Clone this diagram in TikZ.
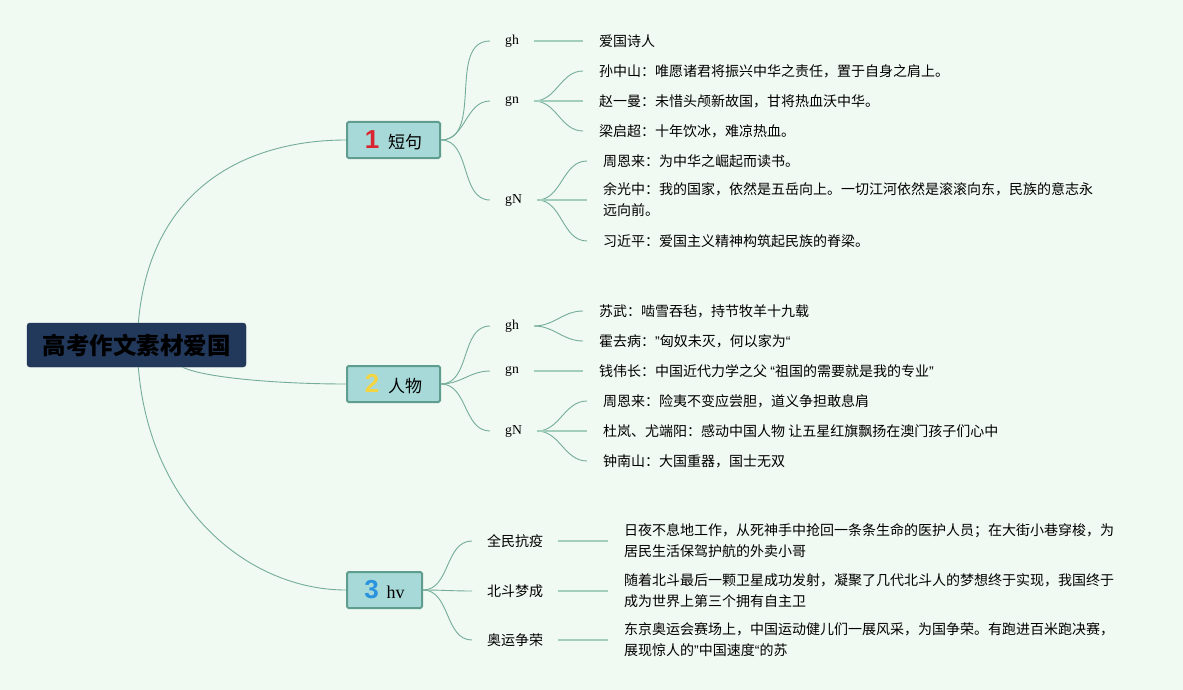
\documentclass[tikz,border=0pt]{standalone}
\usepackage{fontspec}
\setmainfont{Liberation Serif}
\newfontfamily\cjk{Noto Sans CJK SC}
\newfontfamily\numfont{Liberation Sans}
\newcommand\latq[1]{{\numfont #1}}
\definecolor{bgmint}{HTML}{F1F9F3}
\definecolor{rootfill}{HTML}{22395C}
\definecolor{topicfill}{HTML}{A7D9D8}
\definecolor{topicline}{HTML}{5F9E8E}
\definecolor{linkcol}{HTML}{74AD9A}
\definecolor{stemcol}{HTML}{A2CFBC}
\definecolor{numred}{HTML}{D9242F}
\definecolor{numyellow}{HTML}{F3D544}
\definecolor{numblue}{HTML}{2A93DD}

\begin{document}
\begin{tikzpicture}[x=1pt,y=-1pt,
  root/.style={draw=rootfill!80!black,fill=rootfill,rounded corners=3pt,minimum width=219pt,minimum height=44pt,inner sep=0pt,font=\cjk\bfseries\fontsize{23.5}{24}\selectfont},
  topic/.style={draw=topicline,fill=topicfill,line width=2pt,rounded corners=1.5pt,minimum height=36pt,inner sep=0pt,font=\cjk\fontsize{17}{17}\selectfont},
  sub/.style={anchor=west,inner xsep=15pt,inner ysep=2pt,font=\fontsize{13.7}{16}\selectfont},
  subcn/.style={sub,font=\cjk\fontsize{14}{16}\selectfont},
  leaf/.style={anchor=west,inner xsep=16pt,inner ysep=1pt,align=left,font=\cjk\fontsize{14}{21}\selectfont},
  link/.style={draw=linkcol,line width=0.9pt},
  stem/.style={draw=stemcol,line width=1.8pt}]
\fill[bgmint] (0,0) rectangle (1183,690);
% centre and the three topics
\node[root] (root) at (136.5,345) {高考作文素材爱国};
\node[topic,minimum width=93pt] (b1) at (393.5,140) {{\numfont\bfseries\fontsize{26}{26}\selectfont\color{numred}1}\hspace{9pt}短句};
\node[topic,minimum width=93pt] (b2) at (393.5,384) {{\numfont\bfseries\fontsize{26}{26}\selectfont\color{numyellow}2}\hspace{9pt}人物};
\node[topic,minimum width=75pt] (b3) at (384.5,590) {{\numfont\bfseries\fontsize{26}{26}\selectfont\color{numblue}3}\hspace{8pt}{\rmfamily\fontsize{18}{18}\selectfont hv}};
\draw[link] (root) .. controls (150,185) and (250,140) .. (b1.west);
\draw[link] (root) .. controls (205,378) and (280,384) .. (b2.west);
\draw[link] (root) .. controls (150,510) and (250,590) .. (b3.west);
% second level
\node[sub] (s11) at (490,41) {gh};
\node[sub] (s12) at (490,101) {gn};
\node[sub] (s13) at (490,200) {gN};
\node[sub] (s21) at (490,326) {gh};
\node[sub] (s22) at (490,371) {gn};
\node[sub] (s23) at (490,431) {gN};
\node[subcn] (s31) at (472,541) {全民抗疫};
\node[subcn] (s32) at (472,591) {北斗梦成};
\node[subcn] (s33) at (472,640) {奥运争荣};
\foreach \a/\b in {b1/s11,b1/s12,b1/s13,b2/s21,b2/s22,b2/s23,b3/s31,b3/s32,b3/s33}{
  \draw[link] (\a.east) to[out=0,in=180] (\b.west);}
% leaves
\node[leaf] (t11) at (583,41) {爱国诗人};
\node[leaf] (t12a) at (583,71) {孙中山：唯愿诸君将振兴中华之责任，置于自身之肩上。};
\node[leaf] (t12b) at (583,101) {赵一曼：未惜头颅新故国，甘将热血沃中华。};
\node[leaf] (t12c) at (583,131) {梁启超：十年饮冰，难凉热血。};
\node[leaf] (t13a) at (587,161) {周恩来：为中华之崛起而读书。};
\node[leaf] (t13b) at (587,200) {余光中：我的国家，依然是五岳向上。一切江河依然是滚滚向东，民族的意志永\\远向前。};
\node[leaf] (t13c) at (587,241) {习近平：爱国主义精神构筑起民族的脊梁。};
\node[leaf] (t21a) at (583,311) {苏武：啮雪吞毡，持节牧羊十九载};
\node[leaf] (t21b) at (583,341) {霍去病：\latq{”}匈奴未灭，何以家为\latq{“}};
\node[leaf] (t22) at (583,371) {钱伟长：中国近代力学之父 \latq{“}祖国的需要就是我的专业\latq{”}};
\node[leaf] (t23a) at (587,401) {周恩来：险夷不变应尝胆，道义争担敢息肩};
\node[leaf] (t23b) at (587,431) {杜岚、尤端阳：感动中国人物 让五星红旗飘扬在澳门孩子们心中};
\node[leaf] (t23c) at (587,461) {钟南山：大国重器，国士无双};
\node[leaf] (t31) at (608,541) {日夜不息地工作，从死神手中抢回一条条生命的医护人员；在大街小巷穿梭，为\\居民生活保驾护航的外卖小哥};
\node[leaf] (t32) at (608,591) {随着北斗最后一颗卫星成功发射，凝聚了几代北斗人的梦想终于实现，我国终于\\成为世界上第三个拥有自主卫};
\node[leaf] (t33) at (608,640) {东京奥运会赛场上，中国运动健儿们一展风采，为国争荣。有跑进百米跑决赛，\\展现惊人的\latq{”}中国速度\latq{“}的苏};
\foreach \a/\b in {s12/t12a,s12/t12c,s13/t13a,s13/t13c,s21/t21a,s21/t21b,s23/t23a,s23/t23c}{
  \draw[link] (\a.east) to[out=0,in=180] (\b.west);}
\foreach \a/\b in {s11/t11,s12/t12b,s13/t13b,s22/t22,s23/t23b,s31/t31,s32/t32,s33/t33}{
  \draw[stem] (\a.east) -- (\b.west);}
\end{tikzpicture}
\end{document}
